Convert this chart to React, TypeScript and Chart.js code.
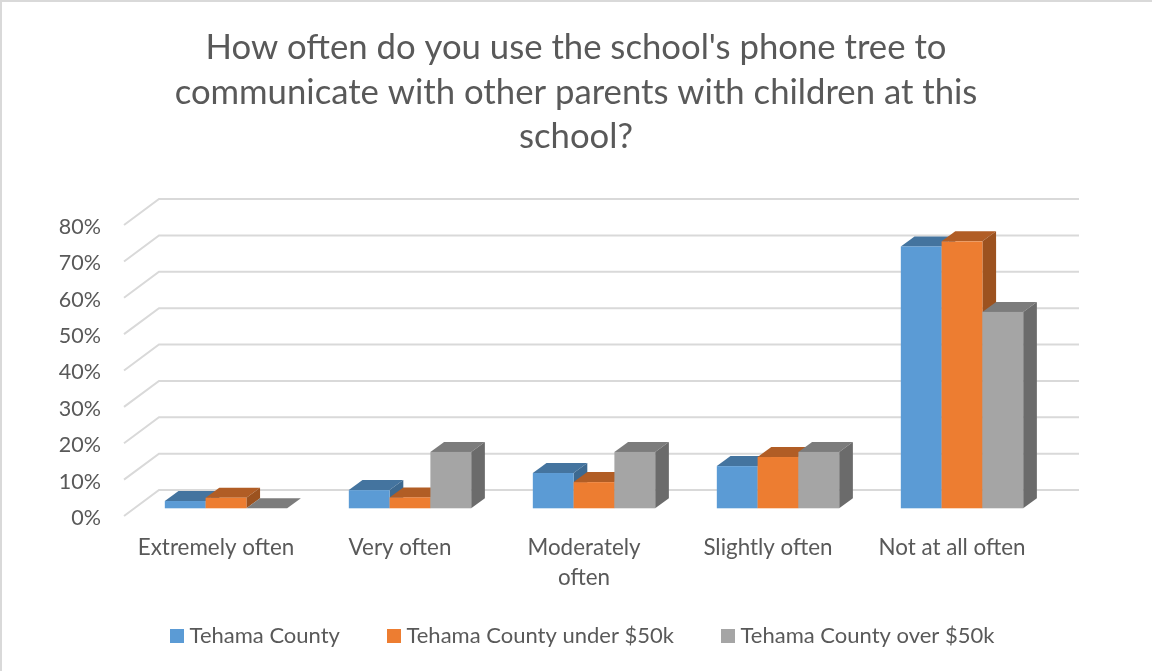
import React, { useEffect, useRef } from "react";
import { Chart, registerables } from "chart.js";

Chart.register(...registerables);

const categories = ["Extremely often", "Very often", ["Moderately", "often"], "Slightly often", "Not at all often"];
const seriesNames = ["Tehama County", "Tehama County under $50k", "Tehama County over $50k"];
const tehamaCounty = [2, 5, 9.7, 11.6, 72];
const under50k = [2.9, 3, 7.2, 14.1, 73.4];
const over50k = [0, 15.5, 15.5, 15.5, 54];
const yTicks = [0, 10, 20, 30, 40, 50, 60, 70, 80];
const titleLines = [
  "How often do you use the school's phone tree to",
  "communicate with other parents with children at this",
  "school?",
];
const frontColors = ["#5b9bd5", "#ed7d31", "#a5a5a5"];
const topColors = ["#44749f", "#b15d25", "#7c7c7c"];
const sideColors = ["#3d6990", "#9c521f", "#6b6b6b"];

const FONT = "Lato";
const TEXT = "#595959";

const swatch = (color: string) => {
  const c = document.createElement("canvas");
  c.width = 14;
  c.height = 14;
  const g = c.getContext("2d")!;
  g.fillStyle = color;
  g.fillRect(0, 0, 14, 14);
  return c;
};

const bars3d = {
  id: "bars3d",
  afterLayout(chart: any) {
    chart.legend.left += 9;
    chart.legend.right += 9;
    // let the two-line category label draw below the axis box
    chart.scales.x.bottom += 30;
  },
  beforeDatasetDraw() {
    return false;
  },
  beforeDatasetsDraw(chart: any) {
    const { ctx, scales } = chart;
    const y = scales.y;
    const { left, right } = chart.chartArea;
    // back wall with its receding gridlines
    ctx.save();
    ctx.strokeStyle = "#d9d9d9";
    ctx.lineWidth = 2;
    yTicks.forEach((t) => {
      const py = y.getPixelForValue(t);
      ctx.beginPath();
      ctx.moveTo(left, py);
      ctx.lineTo(left + 35, py - 26);
      ctx.lineTo(right + 35, py - 26);
      ctx.stroke();
    });
    ctx.restore();

    const dx = 13.7;
    const dy = 10;
    ctx.save();
    ctx.translate(10, -7.7);
    chart.data.datasets.forEach((_: any, i: number) => {
      chart.getDatasetMeta(i).data.forEach((bar: any) => {
        const { x, y: top, base, width } = bar.getProps(["x", "y", "base", "width"], true);
        const x0 = x - width / 2;
        const x1 = x + width / 2;
        ctx.fillStyle = topColors[i];
        ctx.beginPath();
        ctx.moveTo(x0, top);
        ctx.lineTo(x0 + dx, top - dy);
        ctx.lineTo(x1 + dx, top - dy);
        ctx.lineTo(x1, top);
        ctx.closePath();
        ctx.fill();
        ctx.fillStyle = sideColors[i];
        ctx.beginPath();
        ctx.moveTo(x1, top);
        ctx.lineTo(x1 + dx, top - dy);
        ctx.lineTo(x1 + dx, base - dy);
        ctx.lineTo(x1, base);
        ctx.closePath();
        ctx.fill();
        ctx.fillStyle = frontColors[i];
        ctx.fillRect(x0, top, width, base - top);
      });
    });
    ctx.restore();
  },
};

export default function App() {
  const ref = useRef<HTMLCanvasElement>(null);
  useEffect(() => {
    document.body.style.margin = "0";
    const swatches = frontColors.map(swatch);
    const chart = new Chart(ref.current!, {
      type: "bar",
      data: {
        labels: categories as any,
        datasets: [tehamaCounty, under50k, over50k].map((data, i) => ({
          label: seriesNames[i],
          data,
          backgroundColor: frontColors[i],
          barPercentage: 1,
          categoryPercentage: 0.665,
        })),
      },
      plugins: [bars3d],
      options: {
        animation: false,
        responsive: false,
        layout: { padding: { bottom: 14 } },
        plugins: {
          tooltip: { enabled: false },
          title: {
            display: true,
            text: titleLines,
            color: TEXT,
            font: { family: FONT, size: 34.7, weight: "normal", lineHeight: 1.283 },
            padding: { top: 26, bottom: 65.5 },
          },
          legend: {
            position: "bottom",
            labels: {
              color: TEXT,
              font: { family: FONT, size: 22 },
              usePointStyle: true,
              boxWidth: 3,
              boxHeight: 14,
              padding: 52.5,
              generateLabels: (c: any) =>
                Chart.defaults.plugins.legend.labels
                  .generateLabels(c)
                  .map((l: any, i: number) => ({ ...l, pointStyle: swatches[i] })),
            },
          },
        },
        scales: {
          x: {
            grid: { display: false, drawTicks: false },
            border: { display: false },
            afterFit: (s: any) => {
              s.height = 56.5;
            },
            ticks: {
              color: TEXT,
              font: { family: FONT, size: 22.4, lineHeight: 1.34 },
              padding: 17,
              maxRotation: 0,
              autoSkip: false,
            },
          },
          y: {
            min: 0,
            max: 80,
            grid: { display: false, drawTicks: false },
            border: { display: false },
            afterFit: (s: any) => {
              s.width = 124;
            },
            ticks: {
              stepSize: 10,
              color: TEXT,
              font: { family: FONT, size: 21.5 },
              padding: 23,
              labelOffset: 2,
              callback: (v: any) => v + "%",
            },
          },
          rightGutter: {
            position: "right",
            grid: { display: false, drawTicks: false },
            border: { display: false },
            ticks: { display: false },
            afterFit: (s: any) => {
              s.width = 108;
            },
          },
        },
      } as any,
    });
    return () => chart.destroy();
  }, []);
  return (
    <div style={{ width: 1152, height: 671, position: "relative", overflow: "hidden", background: "#fff" }}>
      <canvas ref={ref} width={1152} height={671} style={{ display: "block" }} />
      <div
        style={{
          position: "absolute",
          inset: 0,
          borderLeft: "2px solid #d9d9d9",
          borderTop: "2px solid #d9d9d9",
          pointerEvents: "none",
        }}
      />
    </div>
  );
}
